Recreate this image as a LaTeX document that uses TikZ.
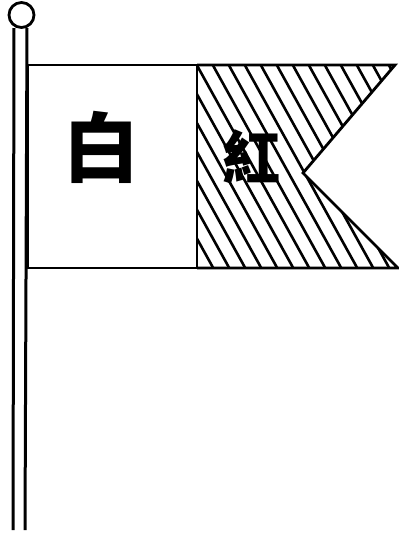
\documentclass[tikz,border=0pt]{standalone}
\usepackage{fontspec}
\newfontfamily\cjk{Noto Sans CJK TC}

\begin{document}
\begin{tikzpicture}[x=1pt,y=-1pt,line join=miter]
    \useasboundingbox (0,0) rectangle (399,536);
    \tikzset{edge/.style={draw=black,line width=2.8pt},
        hatch/.style={draw=black,line width=2.6pt}}
    % pole with its ball
    \draw[line width=3pt] (14,28) -- (13,530);
    \draw[line width=3pt] (27,28) -- (25,530);
    \draw[line width=2.8pt,fill=white] (21.5,15) circle (12.5);
    % hatching of the red part
    \begin{scope}
        \clip (197,65) -- (395,65) -- (303,173) -- (398,268) -- (197,268) -- cycle;
        \foreach \x in {82,98,...,402} % edit here for the hatch lines
        \draw[hatch] (\x,60) -- ++(118,213);
    \end{scope}
    % outline of the flag
    \draw[edge] (28,65) rectangle (197,268);
    \draw[edge] (197,65) -- (395,65) -- (303,173) -- (398,268) -- (197,268);
    \node[font=\cjk\bfseries\fontsize{76}{76}\selectfont] (bai) at (101,147) {白};
    \node[font=\cjk\bfseries\fontsize{58}{58}\selectfont] (hong) at (251,157) {紅};
\end{tikzpicture}
\end{document}
